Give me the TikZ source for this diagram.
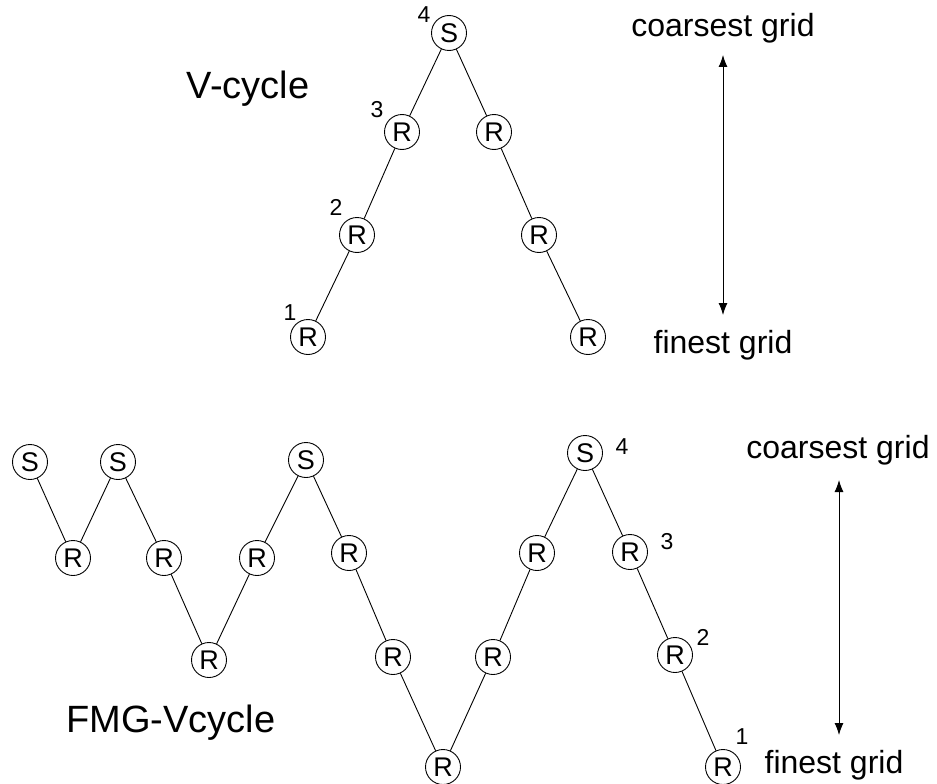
\documentclass[tikz,border=0pt]{standalone}
\usepackage{fontspec}
\setmainfont{Liberation Sans}
\usetikzlibrary{arrows.meta}
\begin{document}
\begin{tikzpicture}[x=1pt,y=-1pt,
  nd/.style={circle,draw,line width=0.9pt,minimum size=35pt,inner sep=0pt,font=\fontsize{27}{27}\selectfont},
  lvl/.style={font=\fontsize{23}{23}\selectfont,inner sep=0pt},
  ttl/.style={font=\fontsize{38}{38}\selectfont,inner sep=0pt,anchor=base},
  grd/.style={font=\fontsize{32}{32}\selectfont,inner sep=0pt,anchor=base},
  ln/.style={line width=0.9pt},
  dbl/.style={line width=0.9pt,{Latex[length=12pt,width=9pt]}-{Latex[length=12pt,width=9pt]}}]
\useasboundingbox (0,0) rectangle (937,784);
% V-cycle
\node[nd] (va) at (308,337) {R};
\node[nd] (vb) at (357,235) {R};
\node[nd] (vc) at (402,132) {R};
\node[nd] (vs) at (449,33) {S};
\node[nd] (vd) at (494,132) {R};
\node[nd] (ve) at (539,235) {R};
\node[nd] (vf) at (588,337) {R};
\draw[ln] (va) -- (vb) -- (vc) -- (vs) -- (vd) -- (ve) -- (vf);
\node[lvl] (n4) at (424,15) {4};
\node[lvl] (n3) at (377,110) {3};
\node[lvl] (n2) at (336,207) {2};
\node[lvl] (n1) at (290,313) {1};
\node[ttl] (vt) at (248,98) {V-cycle};
\node[grd] (tc) at (723,37) {coarsest grid};
\node[grd] (tf) at (723,353) {finest grid};
\coordinate (ta) at (723,55);
\coordinate (tb) at (723,315);
\draw[dbl] (ta) -- (tb);
% FMG
\node[nd] (s1) at (30,462) {S};
\node[nd] (r1) at (73,558) {R};
\node[nd] (s2) at (118,462) {S};
\node[nd] (r2) at (164,558) {R};
\node[nd] (r3) at (209,660) {R};
\node[nd] (r4) at (257,558) {R};
\node[nd] (s3) at (306,460) {S};
\node[nd] (r5) at (349,553) {R};
\node[nd] (r6) at (393,657) {R};
\node[nd] (r7) at (443,767) {R};
\node[nd] (r8) at (493,657) {R};
\node[nd] (r9) at (537,553) {R};
\node[nd] (s4) at (585,453) {S};
\node[nd] (r10) at (630,552) {R};
\node[nd] (r11) at (675,655) {R};
\node[nd] (r12) at (723,767) {R};
\draw[ln] (s1) -- (r1) -- (s2) -- (r2) -- (r3) -- (r4) -- (s3) -- (r5) -- (r6) -- (r7) -- (r8) -- (r9) -- (s4) -- (r10) -- (r11) -- (r12);
\node[lvl] (m4) at (622,447) {4};
\node[lvl] (m3) at (667,542) {3};
\node[lvl] (m2) at (703,637) {2};
\node[lvl] (m1) at (742,737) {1};
\node[ttl] (ft) at (171,732) {FMG-Vcycle};
\node[grd] (bc) at (838,458) {coarsest grid};
\node[grd] (bf) at (834,773) {finest grid};
\coordinate (ba) at (839,480);
\coordinate (bb) at (839,735);
\draw[dbl] (ba) -- (bb);
\end{tikzpicture}
\end{document}
